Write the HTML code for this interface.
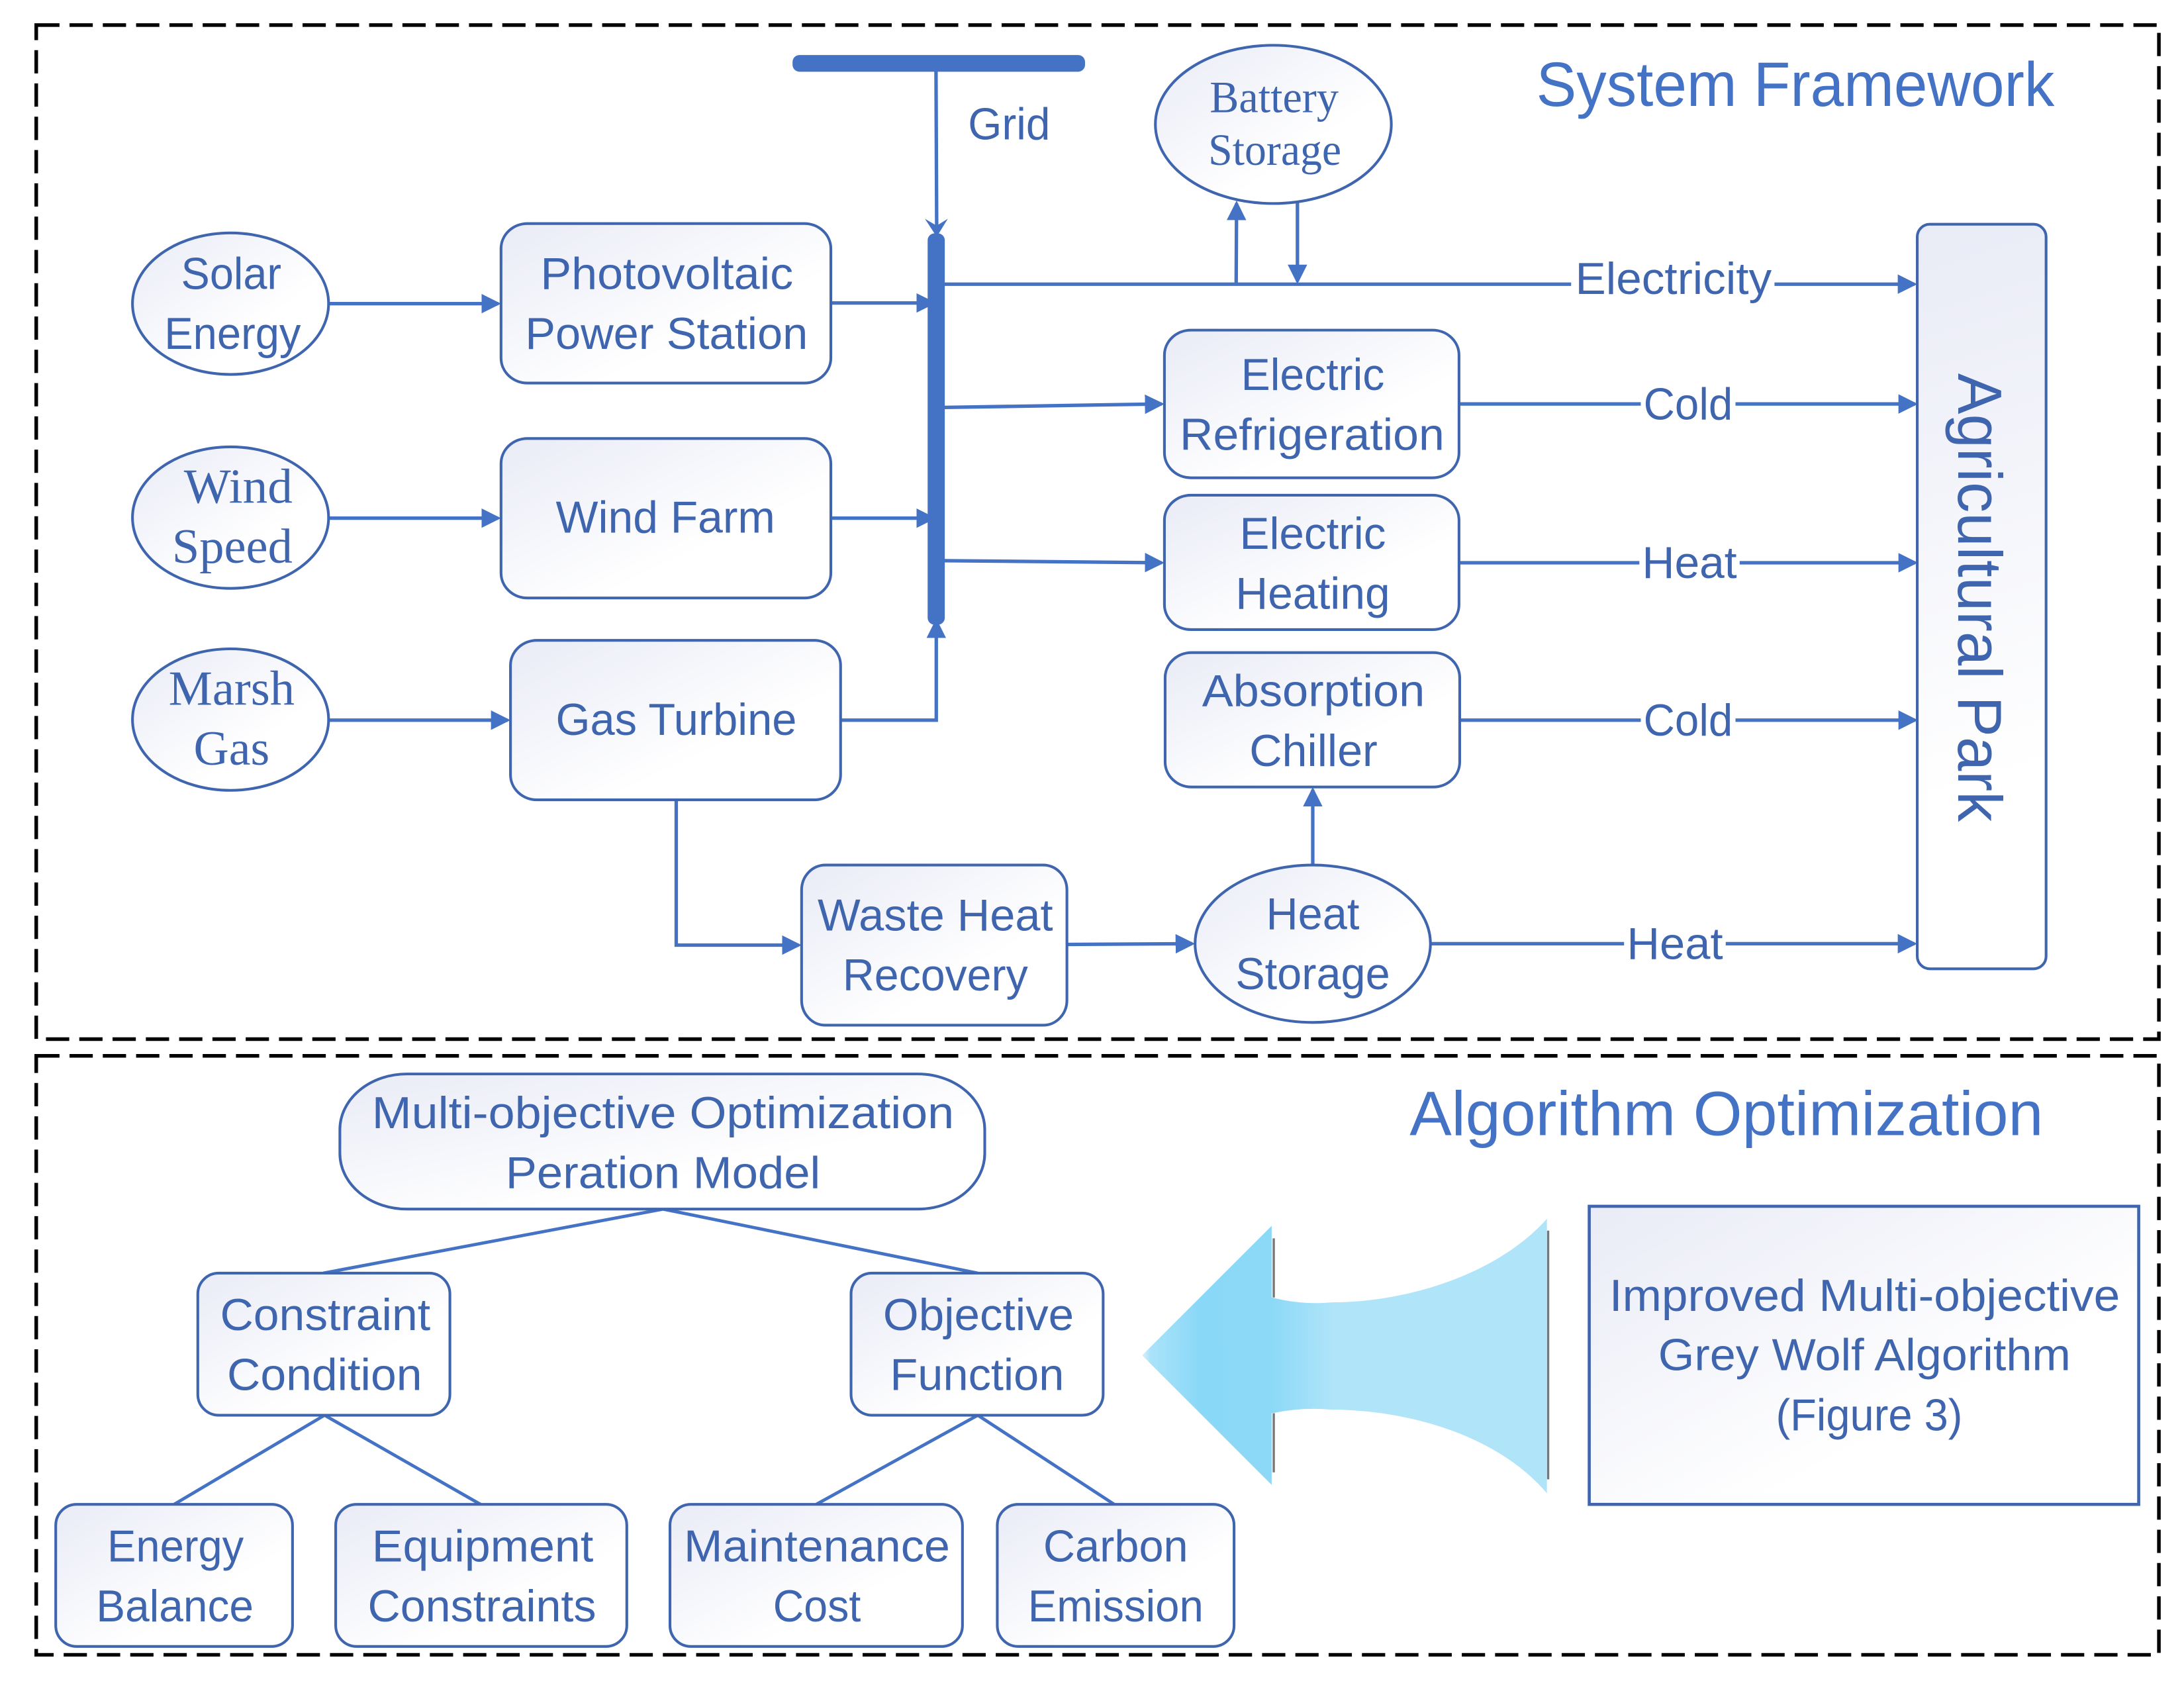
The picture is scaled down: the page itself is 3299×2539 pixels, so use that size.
<!DOCTYPE html>
<html><head><meta charset="utf-8"><style>
html,body{margin:0;padding:0;background:#fff}
svg{display:block}
text{fill:#3f65ae;font-family:"Liberation Sans",sans-serif;font-size:32px}
.s{font-family:"Liberation Serif",serif;font-size:35px}
.h{fill:#4472c4;font-size:45px}
.b{fill:url(#g);stroke:#3f65ae;stroke-width:1.95}
.l{fill:none;stroke:#4472c4;stroke-width:2.5}
.a{marker-end:url(#m)}
.t{fill:none;stroke:#4472c4;stroke-width:2.3}
.d{fill:none;stroke:#000;stroke-width:2.6;stroke-dasharray:16.7 7.2}
</style></head><body>
<svg xmlns="http://www.w3.org/2000/svg" width="3299" height="2539" viewBox="0 0 1568 1206.8">
<defs>
<linearGradient id="g" x1="0" y1="0" x2="1" y2="1"><stop offset="0" stop-color="#e9ebf6"/><stop offset=".65" stop-color="#ffffff"/></linearGradient>
<linearGradient id="ag" gradientUnits="userSpaceOnUse" x1="1376" y1="161" x2="1496" y2="541"><stop offset="0" stop-color="#e9ebf6"/><stop offset="1" stop-color="#ffffff"/></linearGradient>
<linearGradient id="f" gradientUnits="userSpaceOnUse" x1="820" y1="0" x2="1111" y2="0"><stop offset="0" stop-color="#d8f2fc"/><stop offset=".02" stop-color="#aae3f9"/><stop offset=".14" stop-color="#8ad8f7"/><stop offset=".32" stop-color="#8cd9f7"/><stop offset=".47" stop-color="#afe4f9"/><stop offset="1" stop-color="#afe4f9"/></linearGradient>
<marker id="m" markerUnits="userSpaceOnUse" viewBox="0 0 14 14" markerWidth="14" markerHeight="14" refX="12" refY="7" orient="auto"><path d="M0 0L14 7L0 14z" fill="#4472c4"/></marker>
</defs>
<rect width="1568" height="1206.8" fill="#fff"/>
<rect class="d" x="26" y="18" width="1524" height="728"/>
<rect class="d" x="26" y="758" width="1524" height="430"/>

<!-- grid + bus -->
<rect x="569" y="39.5" width="210" height="12" rx="5" fill="#4472c4"/>
<path class="l" d="M672 51L672.5 165"/>
<path d="M664 157L672.5 162L680.5 157L672.5 170z" fill="#4472c4"/>

<!-- connectors -->
<path class="l a" d="M236 218H357.7"/>
<path class="l a" d="M236 372H357.7"/>
<path class="l a" d="M236 517H364.5"/>
<path class="l a" d="M596.5 217.5H670"/>
<path class="l a" d="M596.5 372H670"/>
<path class="l a" d="M604 517H672.2V446"/>
<rect x="666" y="167.5" width="12.3" height="281" rx="5" fill="#4472c4"/>
<path class="l" d="M678 204H1128"/>
<path class="l a" d="M1274 204H1374.5"/>
<path class="l a" d="M887.5 205L887.8 146"/>
<path class="l a" d="M931.5 142V202"/>
<path class="l a" d="M678 292.5L834 290"/>
<path class="l a" d="M678 402.5L834 404"/>
<path class="l" d="M1047 290H1178"/>
<path class="l a" d="M1246 290H1375"/>
<path class="l" d="M1047 404H1177"/>
<path class="l a" d="M1249 404H1375"/>
<path class="l" d="M1048 517H1178"/>
<path class="l a" d="M1246 517H1375"/>
<path class="l" d="M1027 677.5H1166"/>
<path class="l a" d="M1239 677.5H1374.5"/>
<path class="l a" d="M485.5 574V678.5H573.5"/>
<path class="l a" d="M766 678L856 677.5"/>
<path class="l a" d="M942.5 621V567"/>

<!-- left nodes -->
<ellipse class="b" cx="165.5" cy="218" rx="70.4" ry="50.8"/>
<ellipse class="b" cx="165.5" cy="371.6" rx="70.4" ry="50.8"/>
<ellipse class="b" cx="165.5" cy="516.6" rx="70.4" ry="50.8"/>
<text x="130" y="207.5" textLength="72" lengthAdjust="spacingAndGlyphs">Solar</text>
<text x="118" y="250.5" textLength="98" lengthAdjust="spacingAndGlyphs">Energy</text>
<text class="s" x="132" y="361" textLength="78" lengthAdjust="spacingAndGlyphs">Wind</text>
<text class="s" x="123.5" y="404" textLength="86.5" lengthAdjust="spacingAndGlyphs">Speed</text>
<text class="s" x="121" y="506" textLength="90.5" lengthAdjust="spacingAndGlyphs">Marsh</text>
<text class="s" x="139" y="549" textLength="54.5" lengthAdjust="spacingAndGlyphs">Gas</text>

<rect class="b" x="359.7" y="160.5" width="236.8" height="114.5" rx="19" ry="18"/>
<rect class="b" x="359.7" y="314.8" width="236.8" height="114.5" rx="19" ry="18"/>
<rect class="b" x="366.5" y="459.7" width="237" height="114.5" rx="19" ry="18"/>
<text x="388" y="207.5" textLength="181.5" lengthAdjust="spacingAndGlyphs">Photovoltaic</text>
<text x="377" y="250.5" textLength="203" lengthAdjust="spacingAndGlyphs">Power Station</text>
<text x="399" y="382.5" textLength="157.5" lengthAdjust="spacingAndGlyphs">Wind Farm</text>
<text x="399" y="527.5" textLength="173" lengthAdjust="spacingAndGlyphs">Gas Turbine</text>

<!-- battery -->
<ellipse class="b" cx="914.2" cy="89.3" rx="84.7" ry="56.8"/>
<text class="s" style="font-size:32px" x="868.5" y="80.5" textLength="92.5" lengthAdjust="spacingAndGlyphs">Battery</text>
<text class="s" style="font-size:32px" x="867.5" y="118.3" textLength="95.5" lengthAdjust="spacingAndGlyphs">Storage</text>
<text x="695" y="100" textLength="59" lengthAdjust="spacingAndGlyphs">Grid</text>

<!-- middle nodes -->
<rect class="b" x="836" y="237" width="211.5" height="106" rx="19" ry="18"/>
<rect class="b" x="836" y="355.5" width="211.5" height="96.5" rx="19" ry="18"/>
<rect class="b" x="836.5" y="468.5" width="211.5" height="96.5" rx="19" ry="18"/>
<text x="891" y="280" textLength="103" lengthAdjust="spacingAndGlyphs">Electric</text>
<text x="847" y="323" textLength="190" lengthAdjust="spacingAndGlyphs">Refrigeration</text>
<text x="890" y="394" textLength="105" lengthAdjust="spacingAndGlyphs">Electric</text>
<text x="887" y="437" textLength="111" lengthAdjust="spacingAndGlyphs">Heating</text>
<text x="863" y="507" textLength="160" lengthAdjust="spacingAndGlyphs">Absorption</text>
<text x="897" y="550" textLength="92" lengthAdjust="spacingAndGlyphs">Chiller</text>

<rect class="b" x="575.5" y="621" width="190.5" height="115" rx="17" ry="18"/>
<text x="587" y="668" textLength="169" lengthAdjust="spacingAndGlyphs">Waste Heat</text>
<text x="605" y="711" textLength="133" lengthAdjust="spacingAndGlyphs">Recovery</text>
<ellipse class="b" cx="942.5" cy="677.5" rx="84.5" ry="56.5"/>
<text x="909" y="667" textLength="67" lengthAdjust="spacingAndGlyphs">Heat</text>
<text x="887" y="710" textLength="111" lengthAdjust="spacingAndGlyphs">Storage</text>

<!-- energy labels -->
<text x="1131" y="211" textLength="141" lengthAdjust="spacingAndGlyphs">Electricity</text>
<text x="1180" y="301" textLength="64" lengthAdjust="spacingAndGlyphs">Cold</text>
<text x="1179" y="415" textLength="68" lengthAdjust="spacingAndGlyphs">Heat</text>
<text x="1180" y="528" textLength="64" lengthAdjust="spacingAndGlyphs">Cold</text>
<text x="1168" y="688.5" textLength="69" lengthAdjust="spacingAndGlyphs">Heat</text>

<rect class="b" style="fill:url(#ag)" x="1376.5" y="161" width="92.5" height="534.5" rx="9" ry="9"/>
<text transform="translate(1406 268) rotate(90)" style="font-size:44.5px" textLength="322" lengthAdjust="spacingAndGlyphs">Agricultural Park</text>

<text class="h" x="1103" y="76" textLength="372" lengthAdjust="spacingAndGlyphs">System Framework</text>
<text class="h" x="1012" y="815" textLength="455" lengthAdjust="spacingAndGlyphs">Algorithm Optimization</text>

<!-- tree -->
<path class="t" d="M476 868L232 914M476 868L702 914M233 1016L125 1080M233 1016L345 1080M702 1016L586 1080M702 1016L800 1080"/>
<rect class="b" x="244" y="771" width="463" height="97" rx="48" ry="40"/>
<text x="267" y="810" textLength="418" lengthAdjust="spacingAndGlyphs">Multi-objective Optimization</text>
<text x="363" y="853" textLength="226" lengthAdjust="spacingAndGlyphs">Peration Model</text>
<rect class="b" x="142" y="914" width="181" height="102" rx="15" ry="15"/>
<rect class="b" x="611" y="914" width="181" height="102" rx="15" ry="15"/>
<text x="158" y="955" textLength="151" lengthAdjust="spacingAndGlyphs">Constraint</text>
<text x="163" y="998" textLength="140" lengthAdjust="spacingAndGlyphs">Condition</text>
<text x="634" y="955" textLength="137" lengthAdjust="spacingAndGlyphs">Objective</text>
<text x="639" y="998" textLength="125" lengthAdjust="spacingAndGlyphs">Function</text>
<rect class="b" x="40" y="1080" width="170" height="102" rx="15" ry="15"/>
<rect class="b" x="241" y="1080" width="209" height="102" rx="15" ry="15"/>
<rect class="b" x="481" y="1080" width="210" height="102" rx="15" ry="15"/>
<rect class="b" x="716" y="1080" width="170" height="102" rx="15" ry="15"/>
<text x="77" y="1121" textLength="98" lengthAdjust="spacingAndGlyphs">Energy</text>
<text x="69" y="1164" textLength="113" lengthAdjust="spacingAndGlyphs">Balance</text>
<text x="267" y="1121" textLength="159" lengthAdjust="spacingAndGlyphs">Equipment</text>
<text x="264" y="1164" textLength="164" lengthAdjust="spacingAndGlyphs">Constraints</text>
<text x="491" y="1121" textLength="191" lengthAdjust="spacingAndGlyphs">Maintenance</text>
<text x="555" y="1164" textLength="63" lengthAdjust="spacingAndGlyphs">Cost</text>
<text x="749" y="1121" textLength="104" lengthAdjust="spacingAndGlyphs">Carbon</text>
<text x="738" y="1164" textLength="126" lengthAdjust="spacingAndGlyphs">Emission</text>

<!-- big arrow -->
<path d="M914.5 889V931.5M914.5 1014.6V1057M1111.5 883.5V1062" fill="none" stroke="#777" stroke-width="1.6"/>
<path d="M820 973L913 880V931.5Q935 937 956 935C1010 935 1075 915 1110.6 875V1072C1075 1030 1010 1012 956 1012Q935 1010 913 1014.6V1066Z" fill="url(#f)"/>

<rect class="b" x="1141" y="866" width="394.5" height="214" style="stroke-width:2.2"/>
<text x="1155.4" y="941" textLength="366.6" lengthAdjust="spacingAndGlyphs">Improved Multi-objective</text>
<text x="1190.5" y="983.6" textLength="296.2" lengthAdjust="spacingAndGlyphs">Grey Wolf Algorithm</text>
<text x="1275" y="1027" textLength="134" lengthAdjust="spacingAndGlyphs">(Figure 3)</text>
</svg>
</body></html>
